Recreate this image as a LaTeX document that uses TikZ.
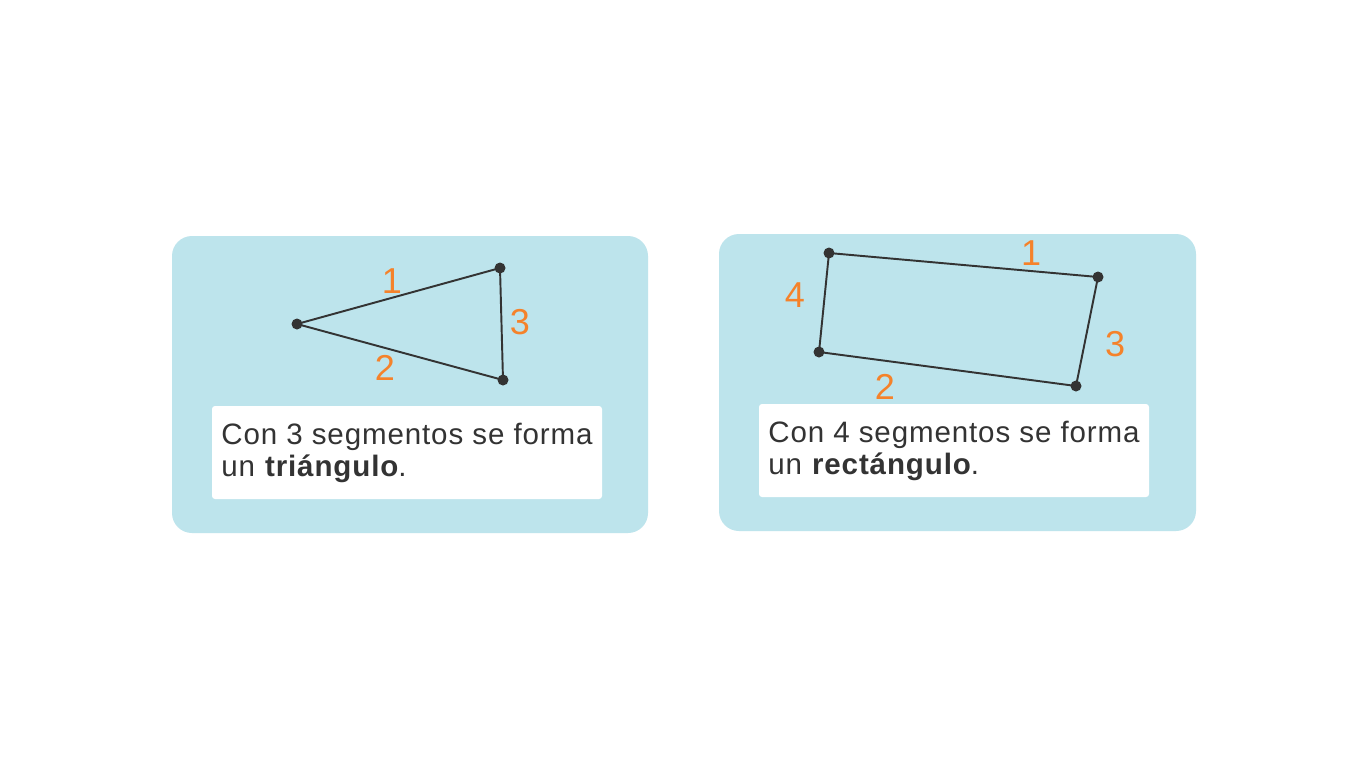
\documentclass[tikz,border=0pt]{standalone}
\usepackage{fontspec}
\setmainfont{Liberation Sans}
\usetikzlibrary{positioning}
\definecolor{cardblue}{HTML}{BDE4EC}
\definecolor{segorange}{HTML}{F5822A}
\definecolor{inkgray}{HTML}{333333}
\begin{document}
\begin{tikzpicture}[x=0.02cm, y=-0.02cm,
        card/.style={fill=cardblue, rounded corners=0.4cm},
        textbox/.style={fill=white, rounded corners=0.06cm},
        caption/.style={inner sep=0pt, align=left, anchor=north west, text=inkgray,
            font=\fontsize{16.8}{18.2}\selectfont\addfontfeature{LetterSpace=3}},
        seglabel/.style={text=segorange, inner sep=0pt, font=\fontsize{20.5}{20.5}\selectfont},
        seg/.style={draw=inkgray, line width=1.1pt, line join=round}
      ]
      \useasboundingbox[fill=white] (0,0) rectangle (1368,768);

      % triangle card
      \fill[card] (172,236) rectangle (648,533);
      \fill[textbox] (212,406) rectangle (602,499);
      \coordinate (ta) at (297,324);
      \coordinate (tb) at (500,268);
      \coordinate (tc) at (503,380);
      \draw[seg] (ta) -- (tb) -- (tc) -- cycle;
      \foreach \p in {ta,tb,tc} \fill[inkgray] (\p) circle (0.11cm);
      \node[seglabel] (t1) at (392,281) {1};
      \node[seglabel] (t3) at (520,322) {3};
      \node[seglabel] (t2) at (385,368) {2};
      \node[caption] (tcap) at (221,423) {Con 3 segmentos se forma\\un \textbf{triángulo}.};

      % rectangle card
      \fill[card] (719,234) rectangle (1196,531);
      \fill[textbox] (759,404) rectangle (1149,497);
      \coordinate (ra) at (829,253);
      \coordinate (rb) at (1098,277);
      \coordinate (rc) at (1076,386);
      \coordinate (rd) at (819,352);
      \draw[seg] (ra) -- (rb) -- (rc) -- (rd) -- cycle;
      \foreach \p in {ra,rb,rc,rd} \fill[inkgray] (\p) circle (0.11cm);
      \node[seglabel] (r1) at (1031,253) {1};
      \node[seglabel] (r3) at (1115,344) {3};
      \node[seglabel] (r4) at (795,295) {4};
      \node[seglabel] (r2) at (885,387) {2};
      \node[caption] (rcap) at (768,421) {Con 4 segmentos se forma\\un \textbf{rectángulo}.};
    \end{tikzpicture}
\end{document}
